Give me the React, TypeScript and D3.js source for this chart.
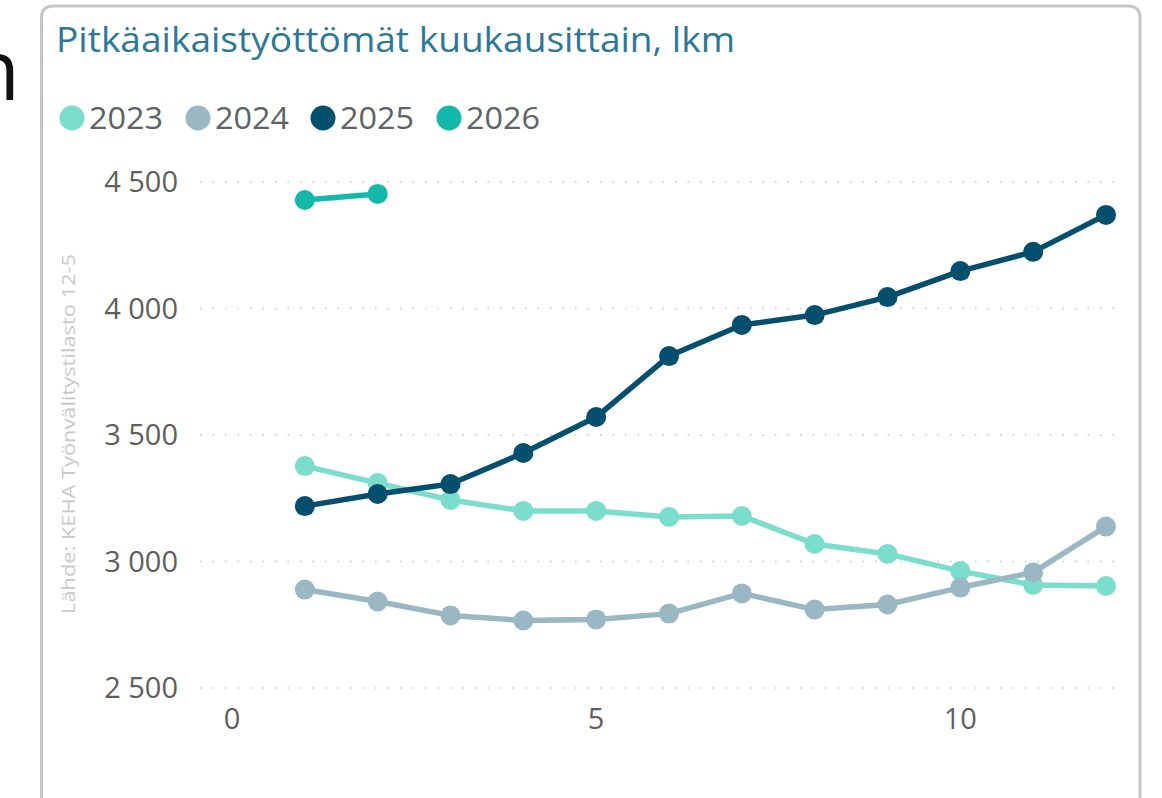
import React from "react";
import * as d3 from "d3";

const months = [1, 2, 3, 4, 5, 6, 7, 8, 9, 10, 11, 12];
const years = ["2023", "2024", "2025", "2026"];
const v2023 = [3377, 3310, 3243, 3200, 3200, 3176, 3180, 3069, 3030, 2962, 2907, 2903];
const v2024 = [2889, 2842, 2787, 2767, 2771, 2794, 2874, 2810, 2830, 2897, 2957, 3138];
const v2025 = [3219, 3267, 3306, 3429, 3571, 3812, 3935, 3974, 4045, 4148, 4224, 4370];
const v2026 = [4429, 4453];
const yTicks = [2500, 3000, 3500, 4000, 4500];
const xTicks = [0, 5, 10];
const colors = ["#7BDDCC", "#9AB8C3", "#044E6E", "#14B8AB"];
const title = "Pitkäaikaistyöttömät kuukausittain, lkm";
const source = "Lähde: KEHA Työnvälitystilasto 12-5";

const FONT = "'Open Sans', 'Noto Sans', sans-serif";

export default function App() {
  const W = 1162, H = 798;
  const x = d3.scaleLinear().domain([0, 12]).range([232, 1106]);
  const y = d3.scaleLinear().domain([2500, 4500]).range([688, 182]);
  const series = [v2023, v2024, v2025, v2026];
  const line = d3.line<number>().x((_, i) => x(months[i])).y((d) => y(d));
  const fmt = (v: number) => d3.format(",")(v).replace(/,/g, " ");
  const legendX = [72, 198, 323, 449];
  return (
    <svg width={W} height={H} style={{ position: "absolute", left: 0, top: 0, background: "#fff" }}>
      <text x={20} y={100} fontSize={84} textAnchor="end" fontFamily={FONT} fill="#111">n</text>
      <path d={`M41.5,${H + 10} L41.5,18 Q41.5,6 53.5,6 L1128,6 Q1140,6 1140,18 L1140,${H + 10}`}
        fill="none" stroke="#C6C6C6" strokeWidth={3} />
      <text x={56} y={52} fontSize={34} fontFamily={FONT} fill="#2C7896"
        textLength={679} lengthAdjust="spacingAndGlyphs">{title}</text>
      {years.map((yr, i) => (
        <g key={yr}>
          <circle cx={legendX[i]} cy={118} r={12.5} fill={colors[i]} />
          <text x={legendX[i] + 17} y={129} fontSize={31} fontFamily={FONT} fill="#5C6466"
            textLength={74} lengthAdjust="spacingAndGlyphs">{yr}</text>
        </g>
      ))}
      {yTicks.map((t) => (
        <g key={t}>
          <line x1={200} x2={1116} y1={y(t)} y2={y(t)} stroke="#C4C4C4" strokeWidth={1.5} strokeDasharray="1.5,11" />
          <text x={178} y={y(t) + 10} fontSize={29} textAnchor="end" fontFamily={FONT} fill="#605E5C">{fmt(t)}</text>
        </g>
      ))}
      {xTicks.map((t) => (
        <text key={t} x={x(t)} y={729} fontSize={29} textAnchor="middle" fontFamily={FONT} fill="#605E5C">{t}</text>
      ))}
      <text transform="translate(75,434) rotate(-90)" fontSize={19} textAnchor="middle" fontFamily={FONT}
        fill="#C9C9C9" textLength={360} lengthAdjust="spacingAndGlyphs">{source}</text>
      {series.map((s, i) => (
        <g key={years[i]}>
          <path d={line(s) || ""} fill="none" stroke={colors[i]} strokeWidth={5.5} strokeLinejoin="round" />
          {s.map((v, j) => (
            <circle key={j} cx={x(months[j])} cy={y(v)} r={10} fill={colors[i]} />
          ))}
        </g>
      ))}
    </svg>
  );
}
